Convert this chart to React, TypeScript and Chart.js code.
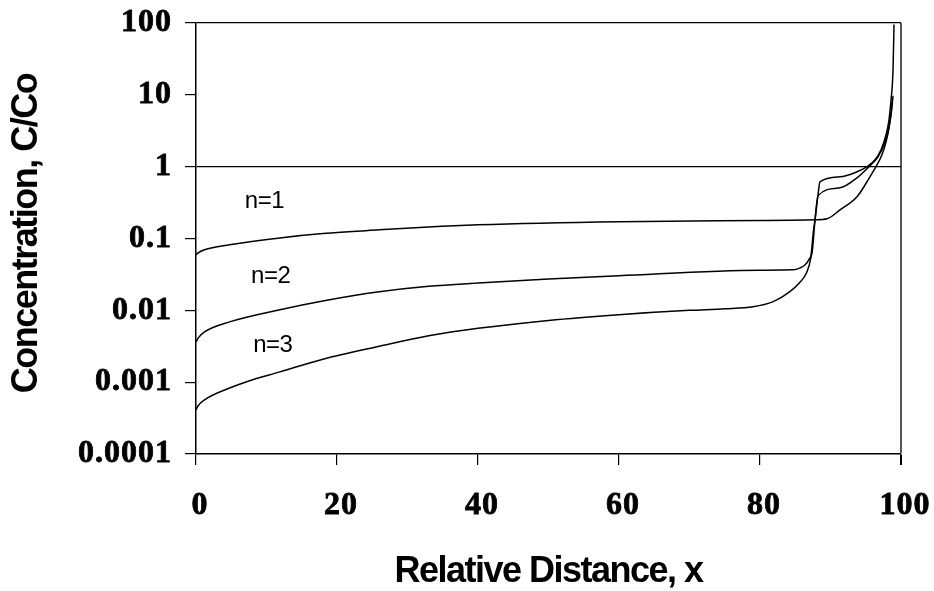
import { useEffect, useRef } from "react";
import { Chart, registerables } from "chart.js";

Chart.register(...registerables);

// ---- data ----
const xTickValues = [0, 20, 40, 60, 80, 100];
const yTickValues = [0.0001, 0.001, 0.01, 0.1, 1, 10, 100];
const yTickLabels = ["0.0001", "0.001", "0.01", "0.1", "1", "10", "100"];
const xTitle = "Relative Distance, x";
const yTitle = "Concentration, C/Co";

const n1X = [0, 0.3, 1.2, 4.75, 11.9, 18, 26, 33, 40, 60, 80, 87.8, 89.5, 91.35, 93.76, 95.6, 96.45, 97.3, 97.88, 98.3, 98.59, 98.75];
const n1Y = [0.059, 0.063, 0.0697, 0.0817, 0.102, 0.117, 0.132, 0.145, 0.155, 0.171, 0.178, 0.182, 0.188, 0.251, 0.381, 0.723, 1.0, 1.47, 2.22, 3.48, 5.6, 8.0];

const n2X = [0, 0.3, 1.2, 4.75, 11.9, 18, 26, 33, 40, 50, 60, 80, 84.7, 85.7, 86.4, 87.0, 87.4, 87.8, 88.22, 91.35, 93.76, 95.6, 96.74, 97.59, 98.16, 98.59, 98.87];
const n2Y = [0.00364, 0.0041, 0.005, 0.0069, 0.0102, 0.0135, 0.0181, 0.0216, 0.024, 0.0272, 0.0303, 0.0362, 0.0366, 0.039, 0.043, 0.052, 0.065, 0.18, 0.394, 0.508, 0.7, 1.03, 1.37, 2.02, 3.06, 5.28, 9.7];

const n3X = [0, 0.3, 1.2, 4.75, 7.5, 11.9, 18, 26, 33, 40, 50, 60, 70, 75, 79, 81.8, 84.2, 85.6, 86.6, 87.2, 87.6, 87.8, 88.22, 88.5, 91.35, 93.76, 95.18, 96.32, 97.17, 97.88, 98.3, 98.59, 98.87, 99.01];
const n3Y = [0.00041, 0.00047, 0.000567, 0.00083, 0.00104, 0.00139, 0.00209, 0.00316, 0.00442, 0.00562, 0.00724, 0.0087, 0.01, 0.0105, 0.0112, 0.0131, 0.0181, 0.0242, 0.0333, 0.0538, 0.132, 0.18, 0.394, 0.616, 0.723, 0.849, 1.0, 1.25, 1.72, 2.78, 4.5, 8.5, 22.4, 95];

const curveNames = ["n=1", "n=2", "n=3"];
const curveLabelX = [9.7, 10.6, 10.9];
const curveLabelY = [0.324, 0.0293, 0.0033];

const toPoints = (xs: number[], ys: number[]) => xs.map((x, i) => ({ x, y: ys[i] }));

const textPlugin = {
  id: "textPlugin",
  beforeDraw(chart: any) {
    (chart.ctx as any).letterSpacing = "1px";
  },
  afterDraw(chart: any) {
    const ctx = chart.ctx;
    const { left, right, top, bottom } = chart.chartArea;
    const xs = chart.scales.x;
    const ys = chart.scales.y;
    ctx.save();
    ctx.fillStyle = "#000";
    // curve labels
    ctx.letterSpacing = "-0.5px";
    ctx.font = '24px "Liberation Sans", Arial, sans-serif';
    ctx.textAlign = "center";
    ctx.textBaseline = "middle";
    curveNames.forEach((t, i) => {
      ctx.fillText(t, xs.getPixelForValue(curveLabelX[i]), ys.getPixelForValue(curveLabelY[i]));
    });
    // axis titles
    ctx.letterSpacing = "-1.5px";
    ctx.font = 'bold 36px "Liberation Sans", Arial, sans-serif';
    ctx.fillText(xTitle, (left + right) / 2, 572);
    ctx.translate(27, (top + bottom) / 2 - 5);
    ctx.rotate(-Math.PI / 2);
    ctx.fillText(yTitle, 0, 0);
    ctx.restore();
  },
};

export default function App() {
  const ref = useRef<HTMLCanvasElement>(null);
  useEffect(() => {
    if (!ref.current) return;
    const tickFont = { family: '"Liberation Serif", "Times New Roman", serif', size: 32, weight: "bold" as const };
    const line = {
      showLine: true,
      borderColor: "#000",
      backgroundColor: "#000",
      borderWidth: 1.5,
      pointRadius: 0,
      cubicInterpolationMode: "monotone" as const,
      fill: false,
    };
    const chart = new Chart(ref.current, {
      type: "scatter",
      data: {
        datasets: [
          { label: curveNames[0], data: toPoints(n1X, n1Y), ...line },
          { label: curveNames[1], data: toPoints(n2X, n2Y), ...line },
          { label: curveNames[2], data: toPoints(n3X, n3Y), ...line },
        ],
      },
      options: {
        responsive: false,
        devicePixelRatio: 1,
        animation: false,
        events: [],
        layout: { padding: { top: 23, right: 33, bottom: 0, left: 0 } },
        plugins: { legend: { display: false }, tooltip: { enabled: false } },
        scales: {
          x: {
            type: "linear",
            min: 0,
            max: 100,
            afterBuildTicks: (s: any) => {
              s.ticks = xTickValues.map((v) => ({ value: v }));
            },
            afterFit: (s: any) => {
              s.height = 137;
              s.paddingLeft = 0;
              s.paddingRight = 0;
              s.paddingTop = 0;
              s.paddingBottom = 0;
            },
            ticks: {
              font: tickFont,
              color: "#000",
              padding: 22,
              maxRotation: 0,
              labelOffset: 4,
              textStrokeColor: "#000",
              textStrokeWidth: 0.8,
            },
            grid: {
              color: (c: any) => (c.tick && c.tick.value === 100 ? "#555" : "rgba(0,0,0,0)"),
              lineWidth: (c: any) => (c.tick && c.tick.value === 100 ? 2 : 1.2),
              tickColor: "#000",
              tickLength: 11,
            },
            border: { display: true, color: "#000", width: 1.5 },
          },
          y: {
            type: "logarithmic",
            min: 0.0001,
            max: 100,
            afterBuildTicks: (s: any) => {
              s.ticks = yTickValues.map((v) => ({ value: v }));
            },
            afterFit: (s: any) => {
              s.width = 196;
              s.paddingLeft = 0;
              s.paddingRight = 0;
              s.paddingTop = 0;
              s.paddingBottom = 0;
            },
            ticks: {
              font: tickFont,
              color: "#000",
              padding: 13,
              textStrokeColor: "#000",
              textStrokeWidth: 0.8,
              callback: (v: any) => {
                const i = yTickValues.indexOf(Number(v));
                return i >= 0 ? yTickLabels[i] : "";
              },
            },
            grid: {
              color: (c: any) => (c.tick && (c.tick.value === 1 || c.tick.value === 100) ? "#000" : "rgba(0,0,0,0)"),
              lineWidth: 1.2,
              tickColor: "#000",
              tickLength: 11,
            },
            border: { display: true, color: "#000", width: 1.5 },
          },
        },
      },
      plugins: [textPlugin],
    });
    return () => chart.destroy();
  }, []);
  return (
    <div style={{ position: "fixed", left: 0, top: 0, width: 934, height: 591, background: "#fff" }}>
      <canvas ref={ref} width={934} height={591} style={{ display: "block", width: 934, height: 591 }} />
    </div>
  );
}
